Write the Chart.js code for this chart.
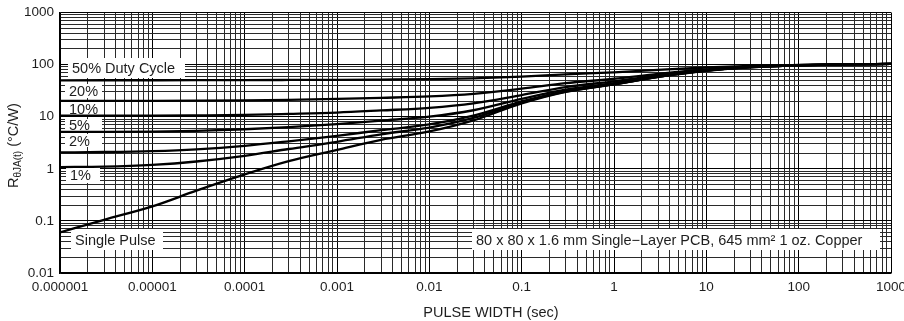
<!DOCTYPE html>
<html>
<head>
<meta charset="utf-8">
<script src="https://cdn.jsdelivr.net/npm/chart.js@4/dist/chart.umd.min.js"></script>
<style>
  html, body { margin: 0; padding: 0; background: #fff; }
  canvas { display: block; }
</style>
</head>
<body>
<canvas id="thermalChart" width="904" height="321"></canvas>
<script>
// pulse width (sec) where the curves were read
const pulseWidth = [1e-6, 3e-6, 1e-5, 3e-5, 1e-4, 3e-4, 1e-3, 3e-3, 1e-2, 3e-2, 0.1, 0.3, 1, 3, 10, 30, 100, 300, 1000];

// R thetaJA(t) in degC/W
const duty50 = [50, 50.05, 50.1, 50.2, 50.4, 50.7, 51.1, 51.7, 52.5, 54.5, 59, 65, 71, 79, 88, 94.5, 98.5, 101, 103];
const duty20 = [20.1, 20.1, 20.15, 20.3, 20.6, 21.1, 21.9, 23, 24.5, 27.5, 34.5, 44, 53.5, 66.5, 81, 91.2, 97.6, 101, 103];
const duty10 = [10.5, 10.5, 10.5, 10.6, 10.8, 11.3, 12, 13.2, 14.8, 18, 26, 37, 47.8, 62, 78.5, 90.1, 97.3, 101, 103];
const duty5 = [5.1, 5.1, 5.18, 5.36, 5.74, 6.33, 7.2, 8.4, 10, 13.3, 22, 33, 44, 59.5, 77.3, 89.6, 97.2, 101, 103];
const duty2 = [2.06, 2.1, 2.19, 2.37, 2.76, 3.37, 4.3, 5.5, 7.1, 10.5, 19.6, 31, 42, 58.3, 76.5, 89.2, 97, 101, 103];
const duty1 = [1.08, 1.1, 1.19, 1.38, 1.77, 2.4, 3.3, 4.6, 6.2, 9.5, 18.8, 30.3, 41.6, 58, 76.3, 89.1, 97, 101, 103];
const singlePulse = [0.06, 0.105, 0.19, 0.38, 0.78, 1.4, 2.3, 3.6, 5.2, 8.5, 18, 30, 42, 58, 76, 89, 97, 101, 103];

const xTickLabels = ['0.000001', '0.00001', '0.0001', '0.001', '0.01', '0.1', '1', '10', '100', '1000'];
const yTickLabels = ['0.01', '0.1', '1', '10', '100', '1000'];

const FONT = '"Liberation Sans", Arial, Helvetica, sans-serif';

function toPoints(values) {
    return pulseWidth.map((t, i) => ({ x: t, y: values[i] }));
}

function curve(label, values) {
    return {
        label: label,
        data: toPoints(values),
        borderColor: '#000',
        borderWidth: 2.3,
        pointRadius: 0,
        fill: false,
        cubicInterpolationMode: 'monotone'
    };
}

// log grid: 1..9 x 10^n for every decade
function logTicks(fromExp, toExp) {
    const ticks = [];
    for (let e = fromExp; e < toExp; e++) {
        for (let m = 1; m <= 9; m++) {
            ticks.push({ value: parseFloat((m * Math.pow(10, e)).toPrecision(6)) });
        }
    }
    ticks.push({ value: Math.pow(10, toExp) });
    return ticks;
}

function decadeLabel(value, labels, firstExp) {
    const e = Math.log10(value);
    const r = Math.round(e);
    if (Math.abs(e - r) < 1e-6) return labels[r - firstExp];
    return '';
}

function isDecade(value) {
    const e = Math.log10(value);
    return Math.abs(e - Math.round(e)) < 1e-6;
}

// white label boxes and axis titles
const annotations = {
    id: 'annotations',
    beforeDatasetsDraw(chart) {
        const ctx = chart.ctx;
        const boxes = [
            { text: '50% Duty Cycle', x: 68, y: 58, w: 117, h: 20 },
            { text: '20%', x: 65, y: 84, w: 37, h: 14 },
            { text: '10%', x: 65, y: 102, w: 37, h: 13 },
            { text: '5%', x: 65, y: 119, w: 37, h: 12 },
            { text: '2%', x: 65, y: 134, w: 37, h: 13 },
            { text: '1%', x: 66, y: 167, w: 34, h: 16 },
            { text: 'Single Pulse', x: 71, y: 229, w: 92, h: 21 },
            { text: '80 x 80 x 1.6 mm Single\u2212Layer PCB, 645 mm\u00B2 1 oz. Copper', x: 472, y: 229, w: 408, h: 21 }
        ];
        ctx.save();
        ctx.font = '14.5px ' + FONT;
        ctx.textBaseline = 'middle';
        ctx.textAlign = 'left';
        boxes.forEach(b => {
            ctx.fillStyle = '#fff';
            ctx.fillRect(b.x, b.y, b.w, b.h);
            ctx.fillStyle = '#1e1e1e';
            ctx.fillText(b.text, b.x + 4, b.y + b.h / 2 + 1);
        });
        ctx.restore();
    },
    afterDraw(chart) {
        const ctx = chart.ctx;
        ctx.save();
        ctx.fillStyle = '#1e1e1e';
        // x axis title
        ctx.font = '14.5px ' + FONT;
        ctx.textAlign = 'center';
        ctx.textBaseline = 'alphabetic';
        ctx.fillText('PULSE WIDTH (sec)', 491, 317);
        // y axis title, rotated, with subscript
        ctx.translate(18, 188);
        ctx.rotate(-Math.PI / 2);
        ctx.textAlign = 'left';
        ctx.font = '14.5px ' + FONT;
        ctx.fillText('R', 0, 0);
        let x = ctx.measureText('R').width;
        ctx.font = '10px ' + FONT;
        ctx.fillText('\u03B8JA(t)', x, 3);
        x += ctx.measureText('\u03B8JA(t)').width;
        ctx.font = '14.5px ' + FONT;
        ctx.fillText(' (\u00B0C/W)', x, 0);
        ctx.restore();
    }
};

const ctx = document.getElementById('thermalChart').getContext('2d');
new Chart(ctx, {
    type: 'line',
    data: {
        datasets: [
            curve('50%', duty50),
            curve('20%', duty20),
            curve('10%', duty10),
            curve('5%', duty5),
            curve('2%', duty2),
            curve('1%', duty1),
            curve('Single Pulse', singlePulse)
        ]
    },
    options: {
        responsive: false,
        animation: false,
        layout: { padding: { top: 12.5, right: 13, left: 0, bottom: 0 } },
        plugins: {
            legend: { display: false },
            tooltip: { enabled: false }
        },
        scales: {
            x: {
                type: 'logarithmic',
                min: 1e-6,
                max: 1000,
                afterBuildTicks: axis => { axis.ticks = logTicks(-6, 3); },
                afterFit: axis => {
                    axis.height = 48;
                    axis.paddingLeft = 0;
                    axis.paddingRight = 0;
                },
                ticks: {
                    autoSkip: false,
                    maxRotation: 0,
                    padding: 6,
                    color: '#1e1e1e',
                    font: { family: FONT, size: 13.5 },
                    callback: value => decadeLabel(value, xTickLabels, -6)
                },
                grid: {
                    drawTicks: false,
                    lineWidth: 1,
                    color: c => (c.tick && isDecade(c.tick.value)) ? '#000' : '#2a2a2a'
                },
                border: { color: '#000', width: 1.5 }
            },
            y: {
                type: 'logarithmic',
                min: 0.01,
                max: 1000,
                afterBuildTicks: axis => { axis.ticks = logTicks(-2, 3); },
                afterFit: axis => {
                    axis.width = 60;
                    axis.paddingTop = 0;
                    axis.paddingBottom = 0;
                },
                ticks: {
                    autoSkip: false,
                    padding: 6,
                    color: '#1e1e1e',
                    font: { family: FONT, size: 13.5 },
                    callback: value => decadeLabel(value, yTickLabels, -2)
                },
                grid: {
                    drawTicks: false,
                    lineWidth: 1,
                    color: c => (c.tick && isDecade(c.tick.value)) ? '#000' : '#2a2a2a'
                },
                border: { color: '#000', width: 1.5 }
            }
        }
    },
    plugins: [annotations]
});
</script>
</body>
</html>
